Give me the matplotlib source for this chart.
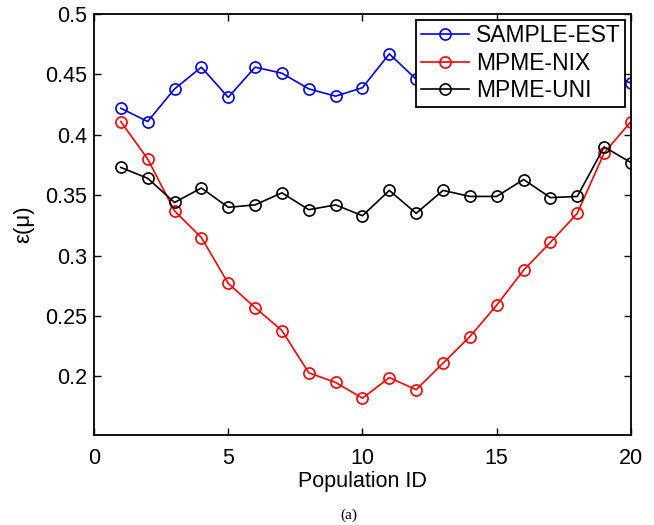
import matplotlib
matplotlib.use("Agg")
import matplotlib.pyplot as plt

# === Data ===
population_id = list(range(1, 21))
sample_est = [0.422, 0.411, 0.438, 0.456, 0.431, 0.456, 0.451, 0.438, 0.432, 0.439,
              0.467, 0.446, 0.452, 0.448, 0.455, 0.447, 0.452, 0.446, 0.450, 0.443]
mpme_nix = [0.411, 0.380, 0.337, 0.315, 0.277, 0.257, 0.238, 0.203, 0.195, 0.182,
            0.199, 0.189, 0.211, 0.233, 0.259, 0.288, 0.311, 0.335, 0.385, 0.411]
mpme_uni = [0.373, 0.364, 0.344, 0.356, 0.340, 0.342, 0.352, 0.338, 0.342, 0.333,
            0.354, 0.335, 0.354, 0.349, 0.349, 0.363, 0.348, 0.349, 0.390, 0.377]
labels = ["SAMPLE-EST", "MPME-NIX", "MPME-UNI"]
x_ticks = [0, 5, 10, 15, 20]
y_ticks = [0.2, 0.25, 0.3, 0.35, 0.4, 0.45, 0.5]
y_tick_labels = ["0.2", "0.25", "0.3", "0.35", "0.4", "0.45", "0.5"]

plt.rcParams['font.family'] = ['Liberation Sans', 'DejaVu Sans']

fig = plt.figure(figsize=(6.54, 5.25), dpi=100)
ax = fig.add_axes([0.1437, 0.1714, 0.8211, 0.8019])

style = dict(marker='o', markersize=8, markerfacecolor='none', linewidth=1.2, markeredgewidth=1.2)
ax.plot(population_id, sample_est, color='#0000ff', label=labels[0], **style)
ax.plot(population_id, mpme_nix, color='#ff0000', label=labels[1], **style)
ax.plot(population_id, mpme_uni, color='black', label=labels[2], **style)

ax.set_xlim(0, 20)
ax.set_ylim(0.1515, 0.5)
ax.set_xticks(x_ticks)
ax.set_yticks(y_ticks)
ax.set_yticklabels(y_tick_labels)
ax.tick_params(direction='in', top=True, right=True, labelsize=15.5, length=5, width=1)
ax.tick_params(axis='x', pad=9)
ax.tick_params(axis='y', pad=5)
for s in ax.spines.values():
    s.set_linewidth(1.3)

ax.set_xlabel("Population ID", fontsize=15.5, labelpad=2)
ax.set_ylabel("ε(μ)", fontsize=16, labelpad=8)

leg = ax.legend(loc='upper right', fontsize=16.5, fancybox=False, framealpha=1,
                edgecolor='black', borderpad=0.2, labelspacing=0.2,
                handlelength=2.1, handletextpad=0.3, borderaxespad=0.25)
leg.get_frame().set_linewidth(1.3)

fig.text(0.534, 0.012, "(a)", fontsize=11, family=['Liberation Serif'], ha='center')

fig.savefig("out.png", dpi=100)
